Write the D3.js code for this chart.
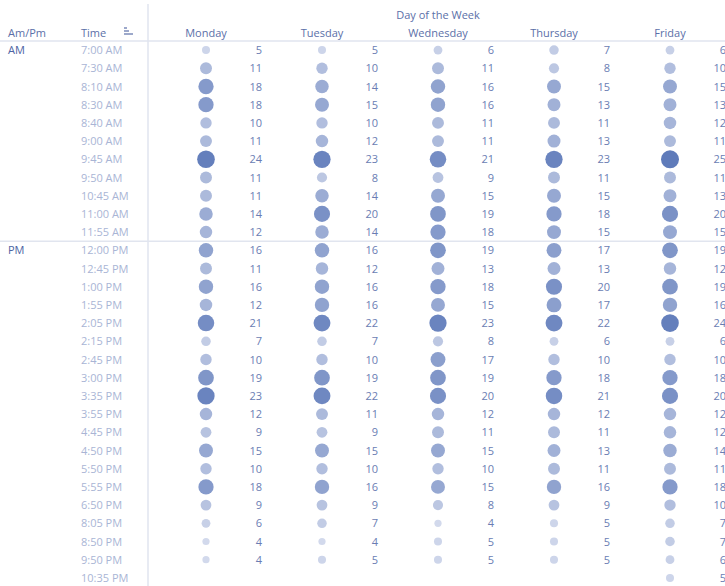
<!DOCTYPE html>
<html>
<head>
<meta charset="utf-8">
<script src="https://cdn.jsdelivr.net/npm/d3@7"></script>
<style>
  body { margin: 0; background: #fff; }
  svg text { font-family: "Open Sans", "Noto Sans", sans-serif; }
</style>
</head>
<body>
<svg id="chart" width="725" height="586"></svg>
<script>
// table data
const days = ["Monday", "Tuesday", "Wednesday", "Thursday", "Friday"];
const amTimes = ["7:00 AM","7:30 AM","8:10 AM","8:30 AM","8:40 AM","9:00 AM","9:45 AM","9:50 AM","10:45 AM","11:00 AM","11:55 AM"];
const pmTimes = ["12:00 PM","12:45 PM","1:00 PM","1:55 PM","2:05 PM","2:15 PM","2:45 PM","3:00 PM","3:35 PM","3:55 PM","4:45 PM","4:50 PM","5:50 PM","5:55 PM","6:50 PM","8:05 PM","8:50 PM","9:50 PM","10:35 PM"];

// counts per day, in the order amTimes then pmTimes (null = no trips)
const monday    = [5,11,18,18,10,11,24,11,11,14,12, 16,11,16,12,21,7,10,19,23,12,9,15,10,18,9,6,4,4,null];
const tuesday   = [5,10,14,15,10,12,23,8,14,20,14, 16,12,16,16,22,7,10,19,22,11,9,15,10,16,9,7,4,5,null];
const wednesday = [6,11,16,16,11,11,21,9,15,19,18, 19,13,18,15,23,8,17,19,20,12,11,15,10,15,8,4,5,5,null];
const thursday  = [7,8,15,13,11,13,23,11,15,18,15, 17,13,20,17,22,6,10,18,21,12,11,13,11,16,9,5,5,5,null];
const friday    = [6,10,15,13,12,11,25,11,13,20,15, 19,12,19,16,24,6,10,18,20,12,12,14,11,18,10,7,7,6,5];

const series = [monday, tuesday, wednesday, thursday, friday];
const times = amTimes.concat(pmTimes);

const svg = d3.select("#chart");
const width = 725, height = 586;

const headerY = 41;
const leftEdge = 148;

const y = d3.scaleBand()
  .domain(times)
  .range([headerY, headerY + times.length * 18.2]);

const x = d3.scaleBand()
  .domain(days)
  .range([leftEdge, leftEdge + days.length * 116]);

const r = d3.scaleSqrt().domain([0, 25]).range([0, 9]);
const color = d3.scaleLinear().domain([4, 25]).range(["#d2d9ec", "#5f7bba"]);

const headColor = "#5b6fa8";
const timeColor = "#a9b5d5";
const numColor = "#6a7db3";
const lineColor = "#e1e5ef";

// grid lines
svg.append("line")
  .attr("x1", 0).attr("x2", width)
  .attr("y1", headerY).attr("y2", headerY)
  .attr("stroke", lineColor).attr("stroke-width", 1.5);

svg.append("line")
  .attr("x1", 0).attr("x2", width)
  .attr("y1", y(pmTimes[0])).attr("y2", y(pmTimes[0]))
  .attr("stroke", lineColor).attr("stroke-width", 1.5);

svg.append("line")
  .attr("x1", leftEdge).attr("x2", leftEdge)
  .attr("y1", 4).attr("y2", height)
  .attr("stroke", lineColor).attr("stroke-width", 1.5);

// headers
svg.append("text")
  .attr("x", x("Wednesday") + x.bandwidth() / 2)
  .attr("y", 19)
  .attr("text-anchor", "middle")
  .attr("font-size", 11)
  .attr("fill", headColor)
  .text("Day of the Week");

svg.append("text").attr("x", 8).attr("y", 37)
  .attr("font-size", 11).attr("fill", headColor).text("Am/Pm");
svg.append("text").attr("x", 81).attr("y", 37)
  .attr("font-size", 11).attr("fill", headColor).text("Time");

// little sort icon next to Time
const sortIcon = svg.append("g").attr("transform", "translate(124,28)")
  .attr("stroke", headColor).attr("stroke-width", 1.2);
[[0, 2], [3, 4], [6, 8]].forEach(function(d, i) {
  sortIcon.append("line").attr("x1", 0).attr("x2", d[1] + 1).attr("y1", d[0]).attr("y2", d[0]);
});

svg.selectAll(".day-label")
  .data(days)
  .enter().append("text")
  .attr("class", "day-label")
  .attr("x", d => x(d) + x.bandwidth() / 2)
  .attr("y", 37)
  .attr("text-anchor", "middle")
  .attr("font-size", 11)
  .attr("fill", headColor)
  .text(d => d);

// Am / Pm labels
svg.append("text").attr("x", 8).attr("y", y(amTimes[0]) + y.bandwidth() / 2 + 4)
  .attr("font-size", 11).attr("font-weight", 500).attr("fill", "#4d64a3").text("AM");
svg.append("text").attr("x", 8).attr("y", y(pmTimes[0]) + y.bandwidth() / 2 + 4)
  .attr("font-size", 11).attr("font-weight", 500).attr("fill", "#4d64a3").text("PM");

// time labels
svg.selectAll(".time-label")
  .data(times)
  .enter().append("text")
  .attr("class", "time-label")
  .attr("x", 81)
  .attr("y", d => y(d) + y.bandwidth() / 2 + 4)
  .attr("font-size", 11)
  .attr("fill", timeColor)
  .text(d => d);

// cells
const cells = [];
days.forEach(function(day, i) {
  times.forEach(function(t, j) {
    if (series[i][j] != null) cells.push({day: day, time: t, value: series[i][j]});
  });
});

svg.selectAll(".dot")
  .data(cells)
  .enter().append("circle")
  .attr("class", "dot")
  .attr("cx", d => x(d.day) + x.bandwidth() / 2)
  .attr("cy", d => y(d.time) + y.bandwidth() / 2)
  .attr("r", d => r(d.value))
  .attr("fill", d => color(d.value));

svg.selectAll(".num")
  .data(cells)
  .enter().append("text")
  .attr("class", "num")
  .attr("x", d => x(d.day) + x.bandwidth() - 2)
  .attr("y", d => y(d.time) + y.bandwidth() / 2 + 4)
  .attr("text-anchor", "end")
  .attr("font-size", 11)
  .attr("fill", numColor)
  .text(d => d.value);
</script>
</body>
</html>
